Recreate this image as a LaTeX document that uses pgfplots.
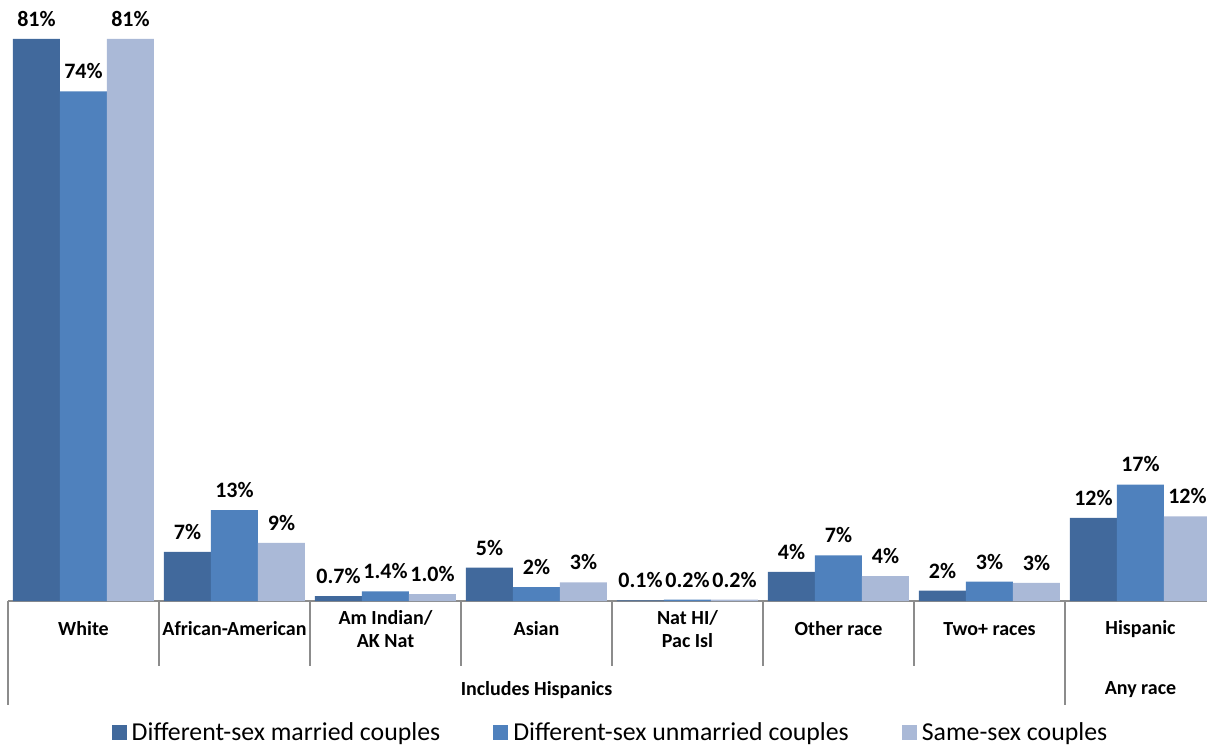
\documentclass[border=0pt]{standalone}
\usepackage{pgfplots}
\pgfplotsset{compat=1.18}
\usepackage{fontspec}
\setmainfont{Carlito}
\definecolor{cMar}{HTML}{41699C}
\definecolor{cUnm}{HTML}{4F81BD}
\definecolor{cSame}{HTML}{AAB9D7}
\definecolor{cLine}{HTML}{8C8C8C}
\begin{document}
\begin{tikzpicture}
\begin{axis}[
  name=ax,
  scale only axis,
  width=604pt, height=300.5pt,
  xmin=-0.5, xmax=7.5, ymin=0, ymax=86.7,
  ybar=0pt, bar width=23.5pt,
  axis x line*=bottom, axis y line=none,
  x axis line style={cLine, line width=0.8pt, -},
  xtick={0,1,2,3,4,5,6,7},
  xticklabels={White, African-American, {Am Indian/\\AK Nat}, Asian, {Nat HI/\\Pac Isl}, Other race, Two+ races, Hispanic},
  major tick length=0pt,
  xticklabel style={align=center, anchor=center, yshift=-14pt, font=\fontsize{10}{11.5}\selectfont\bfseries},
  clip=false,
  point meta=explicit symbolic,
  nodes near coords,
  nodes near coords style={font=\fontsize{11}{13}\selectfont\bfseries, anchor=south, yshift=5pt, inner sep=1pt},
  legend style={at={(0.5,-0.2196)}, anchor=center, legend columns=3, draw=none, fill=none,
    font=\fontsize{12.9}{15}\selectfont, /tikz/every even column/.append style={column sep=24pt},
    nodes={inner sep=2.5pt}},
  legend image code/.code={\fill[#1] (0pt,-3.75pt) rectangle (7.5pt,3.75pt);},
]
\addplot[fill=cMar, draw=none] coordinates {(0,81.1)[81\%] (1,7.1)[7\%] (2,0.7)[0.7\%] (3,4.8)[5\%] (4,0.1)[0.1\%] (5,4.2)[4\%] (6,1.5)[2\%] (7,12.0)[12\%]};
\addplot[fill=cUnm, draw=none] coordinates {(0,73.5)[74\%] (1,13.1)[13\%] (2,1.4)[1.4\%] (3,2.0)[2\%] (4,0.2)[0.2\%] (5,6.6)[7\%] (6,2.8)[3\%] (7,16.8)[17\%]};
\addplot[fill=cSame, draw=none] coordinates {(0,81.1)[81\%] (1,8.4)[9\%] (2,1.0)[1.0\%] (3,2.7)[3\%] (4,0.2)[0.2\%] (5,3.6)[4\%] (6,2.6)[3\%] (7,12.2)[12\%]};
\legend{Different-sex married couples, Different-sex unmarried couples, Same-sex couples}
\foreach \b in {0.5,1.5,2.5,3.5,4.5,5.5}{
  \edef\tmp{\noexpand\draw[cLine, line width=0.8pt] (axis cs:\b,0) -- ++(0pt,-32.5pt);}\tmp
}
\draw[cLine, line width=0.8pt] (axis cs:-0.5,0) -- ++(0pt,-52pt);
\draw[cLine, line width=0.8pt] (axis cs:6.5,0) -- ++(0pt,-52pt);
\node[font=\fontsize{10}{12}\selectfont\bfseries] at (axis cs:3,0) [yshift=-44.5pt] {Includes Hispanics};
\node[font=\fontsize{10}{12}\selectfont\bfseries] at (axis cs:7,0) [yshift=-44.5pt] {Any race};
\end{axis}
\pgfresetboundingbox
\path[use as bounding box] (ax.south west) ++(-4pt,-72.5pt) rectangle ++(603.5pt,373pt);
\end{tikzpicture}
\end{document}
